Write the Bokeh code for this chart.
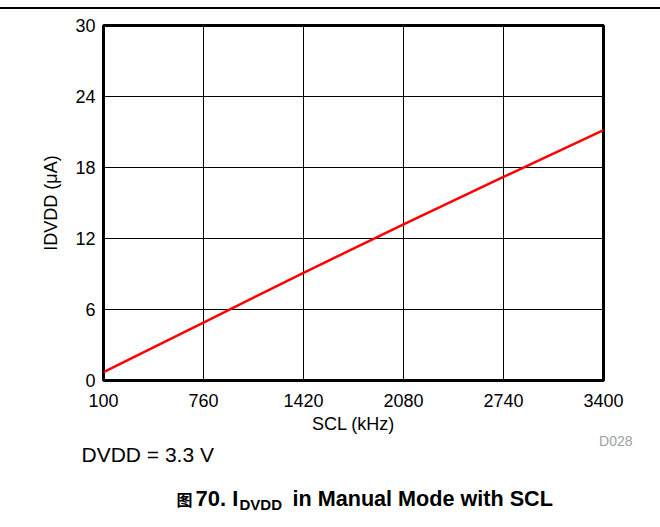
from bokeh.plotting import figure
from bokeh.models import Range1d, FixedTicker, Label, Div
from bokeh.layouts import column
from bokeh.embed import file_html
from bokeh.resources import INLINE

# data
scl_khz = [100, 760, 1420, 2080, 2740, 3400]
idvdd_ua = [0.7, 4.9, 9.1, 13.2, 17.2, 21.15]
x_ticks = [100, 760, 1420, 2080, 2740, 3400]
y_ticks = [0, 6, 12, 18, 24, 30]

W = 660
TOP = 9          # page y where the main figure starts
P_END = 443      # page y where the main figure ends
SPLIT = 436      # page y where the caption figure starts
GAP = 8          # gap observed between stacked children
FONT = "Liberation Sans"

H1 = P_END - TOP
p = figure(width=W, height=H1, output_backend="svg", toolbar_location=None, title=None,
           x_range=Range1d(100, 3400), y_range=Range1d(0, 30),
           min_border_left=103, min_border_right=57,
           min_border_top=25 - TOP, min_border_bottom=H1 - (380 - TOP))

p.line(scl_khz, idvdd_ua, line_color="#ff0000", line_width=2.5)

p.outline_line_color = "black"
p.outline_line_width = 3
p.outline_line_alpha = 1

for ax in (p.xaxis[0], p.yaxis[0]):
    ax.axis_line_color = None
    ax.major_tick_line_color = None
    ax.minor_tick_line_color = None
    ax.major_label_text_font = FONT
    ax.major_label_text_font_size = "18px"
    ax.major_label_text_color = "black"
    ax.axis_label_text_font = FONT
    ax.axis_label_text_font_size = "18px"
    ax.axis_label_text_font_style = "normal"
    ax.axis_label_text_color = "black"

p.xaxis.ticker = FixedTicker(ticks=x_ticks)
p.yaxis.ticker = FixedTicker(ticks=y_ticks)
p.xaxis.axis_label = "SCL (kHz)"
p.yaxis.axis_label = "IDVDD (\u03bcA)"
p.xaxis.major_label_standoff = 7
p.xaxis.axis_label_standoff = 4
p.yaxis.major_label_standoff = 2
p.yaxis.axis_label_standoff = 11

p.xgrid.ticker = FixedTicker(ticks=x_ticks)
p.ygrid.ticker = FixedTicker(ticks=y_ticks)
for g in (p.xgrid[0], p.ygrid[0]):
    g.grid_line_color = "black"
    g.grid_line_width = 1
    g.grid_line_alpha = 1

# caption / notes figure: data coords equal page pixel coords
H2 = 527 - SPLIT
q = figure(width=W, height=H2, output_backend="svg", toolbar_location=None, title=None,
           x_range=Range1d(0, W), y_range=Range1d(527, SPLIT),
           x_axis_location=None, y_axis_location=None,
           min_border=0, outline_line_color=None,
           background_fill_alpha=0, border_fill_alpha=0)
q.frame_align = False
q.grid.visible = False
q.margin = (SPLIT - P_END - GAP, 0, 0, 0)

def lab(text, x, y, size, style="normal", color="black", align="left", font=FONT):
    q.add_layout(Label(x=x, y=y, text=text,
                       text_font=font, text_font_size=size, text_font_style=style,
                       text_color=color, text_align=align, text_baseline="alphabetic"))

lab("D028", 632, 448, "14px", color="#a0a0a0", align="right")
lab("DVDD = 3.3 V", 81, 462, "21px")
lab("\u56fe", 176, 506, "16px", style="bold", font="Noto Sans CJK SC")
lab("70. I", 195, 506, "22px", style="bold")
lab("DVDD", 239, 512, "15px", style="bold")
lab("in Manual Mode with SCL", 292, 506, "21.6px", style="bold")

rule = Div(text="", width=W, height=2, margin=(TOP - 2, 0, 0, 0),
           styles={"background-color": "black"})

layout = column(rule, p, q, spacing=0)
open("out.html", "w").write(file_html(layout, INLINE))
